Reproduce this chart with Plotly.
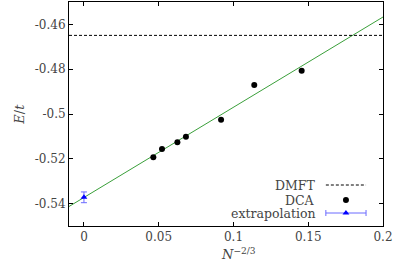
import plotly.graph_objects as go

# ---- data ----
dca_x = [0.0464, 0.0522, 0.0625, 0.0682, 0.0917, 0.1139, 0.1456]
dca_y = [-0.5193, -0.5156, -0.5126, -0.5102, -0.5026, -0.4870, -0.4807]
extrap_x = [0.0]
extrap_y = [-0.5372]
extrap_err = [0.0024]
dmft_x = [-0.01, 0.2]
dmft_y = [-0.4649, -0.4649]
fit_x = [-0.01, 0.2]
fit_y = [-0.5413, -0.4567]
x_ticks = [0, 0.05, 0.1, 0.15, 0.2]
x_tick_labels = ["0", "0.05", "0.1", "0.15", "0.2"]
y_ticks = [-0.54, -0.52, -0.5, -0.48, -0.46]
y_tick_labels = ["-0.54", "-0.52", "-0.5", "-0.48", "-0.46"]
legend_labels = ["DMFT", "DCA", "extrapolation"]

FONT = "DejaVu Serif"
TXT = "#444444"
GREEN = "#3a9f3a"
BLUE = "#0000ff"
LBLUE = "#6a6aff"

fig = go.Figure()
fig.add_trace(go.Scatter(x=fit_x, y=fit_y, mode="lines",
                         line=dict(color=GREEN, width=1), showlegend=False))
fig.add_trace(go.Scatter(x=dmft_x, y=dmft_y, mode="lines",
                         line=dict(color="black", width=1, dash="3px,2px"), showlegend=False))
fig.add_trace(go.Scatter(x=dca_x, y=dca_y, mode="markers",
                         marker=dict(color="black", size=6), showlegend=False))
fig.add_trace(go.Scatter(x=extrap_x, y=extrap_y, mode="markers",
                         marker=dict(color=BLUE, size=6, symbol="triangle-up"),
                         error_y=dict(type="data", array=extrap_err, color=LBLUE,
                                      thickness=1, width=3),
                         showlegend=False))

# manual legend (text left of sample, as in reference) on an overlay axis
lx0, lx1, lxc = 0.818, 0.946, 0.882
ly = [0.183, 0.116, 0.058]
fig.add_trace(go.Scatter(x=[lx0, lx1], y=[ly[0], ly[0]], mode="lines",
                         line=dict(color="black", width=1, dash="3px,2px"),
                         xaxis="x2", yaxis="y2", showlegend=False))
fig.add_trace(go.Scatter(x=[lxc], y=[ly[1]], mode="markers",
                         marker=dict(color="black", size=6),
                         xaxis="x2", yaxis="y2", showlegend=False))
fig.add_trace(go.Scatter(x=[lxc], y=[ly[2]], mode="markers",
                         marker=dict(color=BLUE, size=6, symbol="triangle-up"),
                         error_x=dict(type="constant", value=(lx1 - lx0) / 2,
                                      color=LBLUE, thickness=1, width=3),
                         xaxis="x2", yaxis="y2", showlegend=False))
for lab, yy in zip(legend_labels, ly):
    fig.add_annotation(xref="paper", yref="paper", x=0.79, y=yy, text=lab,
                       showarrow=False, xanchor="right", yanchor="middle",
                       font=dict(family=FONT, size=12.5, color=TXT))

fig.add_annotation(xref="paper", yref="paper", x=-0.16, y=0.5,
                   text="<i>E</i>/<i>t</i>", textangle=-90, showarrow=False,
                   xanchor="center", yanchor="middle",
                   font=dict(family=FONT, size=13, color=TXT))
fig.add_annotation(xref="paper", yref="paper", x=0.54, y=-0.08,
                   text="<i>N</i><sup>−2/3</sup>", showarrow=False,
                   xanchor="center", yanchor="top",
                   font=dict(family=FONT, size=13, color=TXT))

axis_common = dict(showline=True, linecolor="black", linewidth=1, mirror="ticks",
                   ticks="inside", ticklen=4, tickcolor="black", showgrid=False,
                   zeroline=False, tickfont=dict(family=FONT, size=12, color=TXT))
fig.update_layout(
    width=395, height=268,
    margin=dict(l=69, r=12, t=2, b=42),
    plot_bgcolor="white", paper_bgcolor="white",
    font=dict(family=FONT),
    xaxis=dict(range=[-0.01, 0.2], tickvals=x_ticks, ticktext=x_tick_labels, **axis_common),
    yaxis=dict(range=[-0.55, -0.45], tickvals=y_ticks, ticktext=y_tick_labels, **axis_common),
    xaxis2=dict(range=[0, 1], overlaying="x", visible=False, fixedrange=True),
    yaxis2=dict(range=[0, 1], overlaying="y", visible=False, fixedrange=True),
    showlegend=False,
)
fig.write_html("out.html", config={"displayModeBar": False},
               post_script="document.body.style.margin='0';document.body.style.overflow='hidden';")
